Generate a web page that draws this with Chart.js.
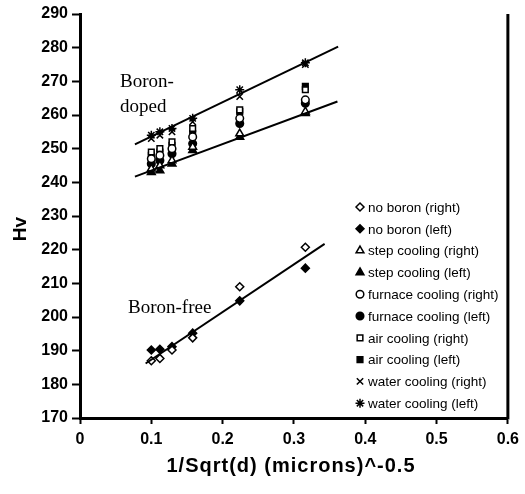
<!DOCTYPE html>
<html>
<head>
<meta charset="utf-8">
<script src="https://cdn.jsdelivr.net/npm/chart.js@4/dist/chart.umd.min.js"></script>
<style>
html,body{margin:0;padding:0;background:#fff;}
</style>
</head>
<body>
<canvas id="hvChart" width="525" height="494"></canvas>
<script>

// x positions of the measurements, 1/sqrt(d)
const xValues = [0.1, 0.112, 0.129, 0.158, 0.224, 0.316];

// boron-free
const noBoronRight = [187, 187.7, 190.2, 193.8, 209, 220.7];
const noBoronLeft = [190.2, 190.4, 191.2, 195.2, 204.8, 214.5];

// boron-doped
const stepRight = [244, 245, 246.5, 250.5, 254.5, 261];
const stepLeft = [243, 243.5, 245.5, 249.5, 253.5, 260.5];
const furnaceRight = [247, 248, 250, 253.5, 259, 264.5];
const furnaceLeft = [245.5, 246.5, 248.5, 251.5, 257.5, 263.5];
const airRight = [249, 250, 252, 256, 261.5, 267.5];
const airLeft = [248, 249, 251, 254.5, 261, 268.5];
const waterRight = [253, 254, 255, 258, 265.5, 275];
const waterLeft = [254, 255, 256, 259, 267.5, 275.5];

// trend lines (end points)
const fitFreeX = [0.092, 0.343];
const fitFreeY = [186.2, 221.7];
const fitUpperX = [0.077, 0.362];
const fitUpperY = [251.3, 280.3];
const fitLowerX = [0.077, 0.361];
const fitLowerY = [241.7, 264.0];

const seriesNames = [
  "no boron (right)", "no boron (left)",
  "step cooling (right)", "step cooling (left)",
  "furnace cooling (right)", "furnace cooling (left)",
  "air cooling (right)", "air cooling (left)",
  "water cooling (right)", "water cooling (left)"
];
const seriesValues = [
  noBoronRight, noBoronLeft, stepRight, stepLeft, furnaceRight,
  furnaceLeft, airRight, airLeft, waterRight, waterLeft
];

// marker look for each series
const markerStyles = [
  {style:"rectRot", fill:"#fff", r:4},
  {style:"rectRot", fill:"#000", r:4},
  {style:"triangle", fill:"#fff", r:4.5},
  {style:"triangle", fill:"#000", r:4.5},
  {style:"circle", fill:"#fff", r:3.8},
  {style:"circle", fill:"#000", r:3.8},
  {style:"rect", fill:"#fff", r:4},
  {style:"rect", fill:"#000", r:4},
  {style:"crossRot", fill:"#000", r:4.5},
  {style:"star", fill:"#000", r:4.5}
];

function toPoints(xs, ys){
  return xs.map((x,i)=>({x:x, y:ys[i]}));
}

let datasets = [];

datasets.push({type:"line", data:toPoints(fitFreeX,fitFreeY), borderColor:"#000", borderWidth:2, pointRadius:0, fill:false});
datasets.push({type:"line", data:toPoints(fitUpperX,fitUpperY), borderColor:"#000", borderWidth:2, pointRadius:0, fill:false});
datasets.push({type:"line", data:toPoints(fitLowerX,fitLowerY), borderColor:"#000", borderWidth:2, pointRadius:0, fill:false});

for(let i=0;i<seriesNames.length;i++){
  let m = markerStyles[i];
  datasets.push({
    type:"scatter",
    label:seriesNames[i],
    data:toPoints(xValues, seriesValues[i]),
    pointStyle:m.style,
    pointRadius:m.r,
    pointBackgroundColor:m.fill,
    pointBorderColor:"#000",
    pointBorderWidth:1.5
  });
}

const tickFont = {family:"'Liberation Sans', Arial", size:16, weight:"bold"};

const extras = {
  id:"extras",
  afterDraw(chart){
    const ctx = chart.ctx;
    const area = chart.chartArea;
    ctx.save();

    // right border
    ctx.strokeStyle = "#000";
    ctx.lineWidth = 3;
    ctx.beginPath();
    ctx.moveTo(area.right, area.top);
    ctx.lineTo(area.right, area.bottom + 1.5);
    ctx.stroke();

    // in-plot labels
    ctx.fillStyle = "#000";
    ctx.font = "19px 'Liberation Serif', 'Times New Roman'";
    ctx.textAlign = "left";
    ctx.textBaseline = "alphabetic";
    ctx.fillText("Boron-", 120, 87);
    ctx.fillText("doped", 120, 112);
    ctx.fillText("Boron-free", 128, 313);

    // legend
    ctx.font = "13.5px 'Liberation Sans', Arial";
    ctx.textBaseline = "middle";
    for(let i=0;i<seriesNames.length;i++){
      let y = 207 + i*21.8;
      let m = markerStyles[i];
      ctx.fillStyle = m.fill;
      ctx.strokeStyle = "#000";
      ctx.lineWidth = 1.5;
      Chart.helpers.drawPoint(ctx, {pointStyle:m.style, radius:m.r, borderWidth:1.5, rotation:0}, 360, y);
      ctx.fillStyle = "#000";
      ctx.fillText(seriesNames[i], 368, y + 1);
    }

    // axis titles
    ctx.font = "bold 20px 'Liberation Sans', Arial";
    ctx.letterSpacing = "1px";
    ctx.textAlign = "center";
    ctx.textBaseline = "middle";
    ctx.fillText("1/Sqrt(d) (microns)^-0.5", 291, 466);
    ctx.letterSpacing = "0px";

    ctx.translate(21, 229);
    ctx.rotate(-Math.PI/2);
    ctx.font = "bold 19px 'Liberation Sans', Arial";
    ctx.fillText("Hv", 0, 0);
    ctx.restore();
  }
};

new Chart(document.getElementById("hvChart"), {
  type:"scatter",
  data:{datasets:datasets},
  plugins:[extras],
  options:{
    responsive:false,
    animation:false,
    devicePixelRatio:1,
    layout:{padding:{top:14, right:10, left:0, bottom:0}},
    plugins:{legend:{display:false}, tooltip:{enabled:false}},
    scales:{
      x:{
        type:"linear", min:0, max:0.6,
        ticks:{stepSize:0.1, color:"#000", font:tickFont, padding:6},
        grid:{drawOnChartArea:false, drawTicks:true, tickLength:6, tickColor:"#000", tickWidth:2},
        border:{color:"#000", width:3},
        afterFit(scale){ scale.height = 76; }
      },
      y:{
        type:"linear", min:170, max:290,
        ticks:{stepSize:10, color:"#000", font:tickFont, padding:4},
        grid:{drawOnChartArea:false, drawTicks:true, tickLength:8, tickColor:"#000", tickWidth:2},
        border:{color:"#000", width:3},
        afterFit(scale){ scale.width = 80; }
      }
    }
  }
});

</script>
</body>
</html>
